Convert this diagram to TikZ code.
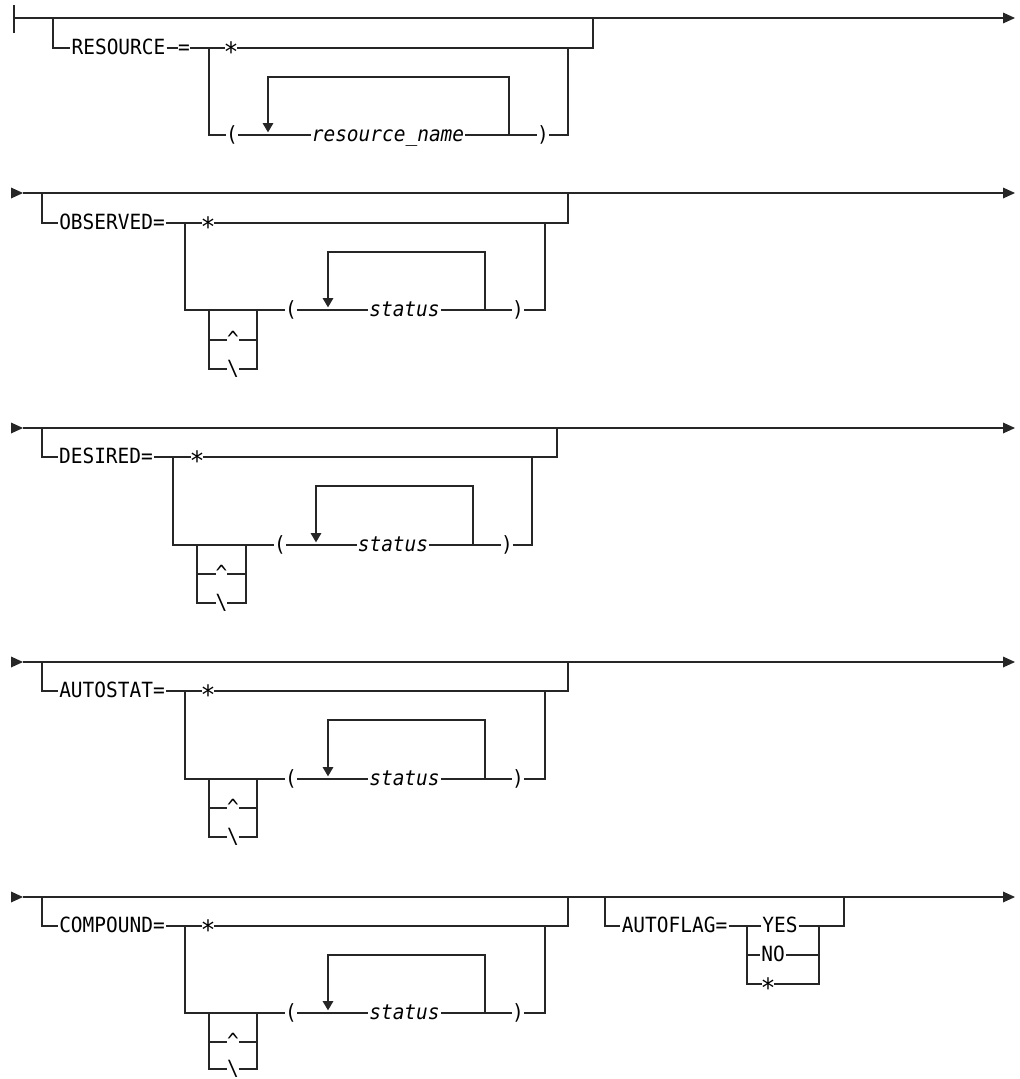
\documentclass[tikz,border=0pt]{standalone}
\usepackage{fontspec}
\newfontfamily\railfont[FakeStretch=0.93]{DejaVu Sans Mono}
\usepackage{tikz}
\usetikzlibrary{positioning}
\usetikzlibrary{arrows.meta}

\begin{document}
\begin{tikzpicture}[x=0.75pt, y=-0.75pt, line width=0.9pt, color=black!85, text=black,
    font=\railfont\fontsize{15.7}{18}\selectfont,
    kw/.style={inner xsep=0.5pt, inner ysep=0pt, text height=9.5pt, text depth=0pt},
    var/.style={kw, font=\railfont\itshape\fontsize{15.7}{18}\selectfont},
    pun/.style={kw, inner xsep=-0.5pt},
    star/.style={kw, inner xsep=-1.5pt, font=\railfont\fontsize{20}{22}\selectfont, text height=20.5pt},
    tip/.style={-{Triangle[width=8pt,length=9pt]}},
    back/.style={-{Triangle[width=8pt,length=7pt]}, shorten >=2pt}]

    \useasboundingbox (0,0) rectangle (1020,1079);

    % RESOURCE
    \coordinate (rbar1) at (14,5);
    \coordinate (rbar2) at (14,33);
    \coordinate (rs) at (14,18);
    \coordinate (re) at (1015,18);
    \draw (rbar1) -- (rbar2);
    \draw[tip] (rs) -- (re);

    \coordinate (ra) at (53,18);
    \coordinate (rb) at (593,18);
    \node[kw] (rkw) at (118.5,48) {RESOURCE};
    \node[pun] (req) at (184,48) {=};
    \node[star] (rstar) at (231,48) {*};
    \coordinate (rj) at (209,48);
    \coordinate (rk) at (568,48);
    \node[pun] (rlp) at (232,135) {(};
    \node[var] (rname) at (388,135) {resource\_name};
    \node[pun] (rrp) at (543,135) {)};
    \coordinate (ru) at (268,135);
    \coordinate (rv) at (509,135);
    \coordinate (rw) at (268,77);

    \draw (ra) |- (rkw) -- (req) -- (rstar) -| (rb);
    \draw (rj) |- (rlp) -- (rname) -- (rrp) -| (rk);
    \draw[back] (rv) |- (rw) -- (ru);

    % OBSERVED
    \coordinate (os) at (11,193);
    \coordinate (ot) at (23,193);
    \coordinate (oe) at (1015,193);
    \draw[tip] (os) -- (ot);
    \draw[tip] (ot) -- (oe);

    \coordinate (oa) at (42,193);
    \coordinate (ob) at (568,193);
    \node[kw] (okw) at (112,223) {OBSERVED=};
    \node[star] (ostar) at (208,223) {*};
    \coordinate (oj) at (185,223);
    \coordinate (ok) at (545,223);
    \coordinate (oh) at (209,310);
    \coordinate (og) at (257,310);
    \node[pun] (ohat) at (233,340) {\textasciicircum};
    \node[pun] (obsl) at (233,369) {\textbackslash};
    \node[pun] (olp) at (291,310) {(};
    \node[var] (ost) at (404.5,310) {status};
    \node[pun] (orp) at (518,310) {)};
    \coordinate (ou) at (328,310);
    \coordinate (ov) at (485,310);
    \coordinate (ow) at (328,252);

    \draw (oa) |- (okw) -- (ostar) -| (ob);
    \draw (oj) |- (olp) -- (ost) -- (orp) -| (ok);
    \draw (oh) |- (ohat) -| (og);
    \draw (oh) |- (obsl) -| (og);
    \draw[back] (ov) |- (ow) -- (ou);

    % DESIRED
    \coordinate (ds) at (11,428);
    \coordinate (dt) at (23,428);
    \coordinate (de) at (1015,428);
    \draw[tip] (ds) -- (dt);
    \draw[tip] (dt) -- (de);

    \coordinate (da) at (42,428);
    \coordinate (db) at (557,428);
    \node[kw] (dkw) at (106,457) {DESIRED=};
    \node[star] (dstar) at (197,457) {*};
    \coordinate (dj) at (173,457);
    \coordinate (dk) at (532,457);
    \coordinate (dh) at (197,545);
    \coordinate (dg) at (246,545);
    \node[pun] (dhat) at (221.5,574) {\textasciicircum};
    \node[pun] (dbsl) at (221.5,603) {\textbackslash};
    \node[pun] (dlp) at (280,545) {(};
    \node[var] (dst) at (393,545) {status};
    \node[pun] (drp) at (507,545) {)};
    \coordinate (du) at (316,545);
    \coordinate (dv) at (473,545);
    \coordinate (dw) at (316,486);

    \draw (da) |- (dkw) -- (dstar) -| (db);
    \draw (dj) |- (dlp) -- (dst) -- (drp) -| (dk);
    \draw (dh) |- (dhat) -| (dg);
    \draw (dh) |- (dbsl) -| (dg);
    \draw[back] (dv) |- (dw) -- (du);

    % AUTOSTAT
    \coordinate (as) at (11,662);
    \coordinate (at) at (23,662);
    \coordinate (ae) at (1015,662);
    \draw[tip] (as) -- (at);
    \draw[tip] (at) -- (ae);

    \coordinate (aa) at (42,662);
    \coordinate (ab) at (568,662);
    \node[kw] (akw) at (112,691) {AUTOSTAT=};
    \node[star] (astar) at (208,691) {*};
    \coordinate (aj) at (185,691);
    \coordinate (ak) at (545,691);
    \coordinate (ah) at (209,779);
    \coordinate (ag) at (257,779);
    \node[pun] (ahat) at (233,808) {\textasciicircum};
    \node[pun] (absl) at (233,837) {\textbackslash};
    \node[pun] (alp) at (291,779) {(};
    \node[var] (ast) at (404.5,779) {status};
    \node[pun] (arp) at (518,779) {)};
    \coordinate (au) at (328,779);
    \coordinate (av) at (485,779);
    \coordinate (aw) at (328,720);

    \draw (aa) |- (akw) -- (astar) -| (ab);
    \draw (aj) |- (alp) -- (ast) -- (arp) -| (ak);
    \draw (ah) |- (ahat) -| (ag);
    \draw (ah) |- (absl) -| (ag);
    \draw[back] (av) |- (aw) -- (au);

    % COMPOUND and AUTOFLAG
    \coordinate (cs) at (11,897);
    \coordinate (ct) at (23,897);
    \coordinate (ce) at (1015,897);
    \draw[tip] (cs) -- (ct);
    \draw[tip] (ct) -- (ce);

    \coordinate (ca) at (42,897);
    \coordinate (cb) at (568,897);
    \node[kw] (ckw) at (112,926) {COMPOUND=};
    \node[star] (cstar) at (208,926) {*};
    \coordinate (cj) at (185,926);
    \coordinate (ck) at (545,926);
    \coordinate (ch) at (209,1013);
    \coordinate (cg) at (257,1013);
    \node[pun] (chat) at (233,1042) {\textasciicircum};
    \node[pun] (cbsl) at (233,1069) {\textbackslash};
    \node[pun] (clp) at (291,1013) {(};
    \node[var] (cst) at (404.5,1013) {status};
    \node[pun] (crp) at (518,1013) {)};
    \coordinate (cu) at (328,1013);
    \coordinate (cv) at (485,1013);
    \coordinate (cw) at (328,955);

    \draw (ca) |- (ckw) -- (cstar) -| (cb);
    \draw (cj) |- (clp) -- (cst) -- (crp) -| (ck);
    \draw (ch) |- (chat) -| (cg);
    \draw (ch) |- (cbsl) -| (cg);
    \draw[back] (cv) |- (cw) -- (cu);

    \coordinate (fa) at (605,897);
    \coordinate (fb) at (844,897);
    \node[kw] (fkw) at (674.5,926) {AUTOFLAG=};
    \coordinate (fj) at (747,926);
    \coordinate (fk) at (819,926);
    \node[kw] (fyes) at (780,926) {YES};
    \node[kw] (fno) at (773,955) {NO};
    \node[star] (fstar) at (768,984) {*};

    \draw (fa) |- (fkw) -- (fyes) -| (fb);
    \draw (fj) |- (fno) -| (fk);
    \draw (fj) |- (fstar) -| (fk);

\end{tikzpicture}
\end{document}
